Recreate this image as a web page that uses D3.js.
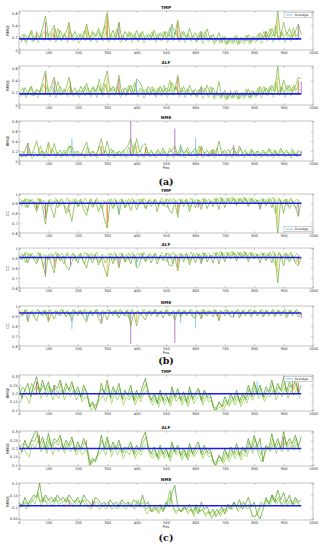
<!DOCTYPE html>
<html>
<head>
<meta charset="utf-8">
<script src="https://cdnjs.cloudflare.com/ajax/libs/d3/7.8.5/d3.min.js"></script>
<style>
  body { margin: 0; background: #fff; }
  svg { display: block; }
  svg text { font-family: "DejaVu Sans", "Liberation Sans", sans-serif; }
  svg text.panel-tag { font-family: "DejaVu Serif", "Liberation Serif", serif; }
</style>
</head>
<body>
<div id="chart"></div>
<script>
const xTicks = [0, 100, 200, 300, 400, 500, 600, 700, 800, 900, 1000];
const posA = d3.range(0, 961, 10);   // main series positions
const posB = d3.range(5, 960, 10);   // second series positions
const posC = d3.range(3, 960, 10);   // third series positions

const ticksRmseA = [0, 0.2, 0.4, 0.6];
const ticksRmseNme = [0, 0.2, 0.4, 0.6, 0.8];
const ticksCC = [0.6, 0.7, 0.8, 0.9, 1];
const ticksC = [0.1, 0.15, 0.2, 0.25, 0.3];
const ticksCNme = [0.05, 0.1, 0.15, 0.2];

const averages = { a1: 0.18, a2: 0.18, a3: 0.12, b1: 0.905, b2: 0.905, b3: 0.93, c1: 0.198, c2: 0.2, c3: 0.105 };

// (a) TMP
const a1A = [.22,.15,.25,.18,.3,.14,.28,.2,.35,.55,.22,.3,.4,.18,.32,.2,.28,.45,.2,.3,.16,.26,.2,.42,.18,.3,.22,.35,.2,.38,.6,.2,.32,.18,.45,.16,.3,.22,.28,.18,.32,.2,.3,.16,.26,.2,.32,.18,.28,.2,.3,.22,.42,.25,.48,.2,.3,.18,.35,.2,.28,.16,.3,.2,.34,.18,.25,.15,.28,.12,.22,.1,.2,.12,.24,.1,.2,.14,.25,.12,.22,.15,.28,.18,.3,.2,.35,.22,.63,.2,.45,.25,.35,.2,.3,.42,.25];
const a1B = [.12,.2,.1,.24,.13,.2,.12,.26,.15,.3,.14,.25,.12,.22,.15,.28,.12,.24,.14,.2,.11,.23,.15,.3,.13,.22,.12,.26,.14,.3,.12,.22,.15,.28,.12,.2,.14,.25,.12,.22,.13,.24,.11,.2,.15,.26,.12,.22,.14,.28,.12,.24,.15,.32,.13,.22,.12,.25,.14,.2,.12,.24,.1,.22,.13,.2,.09,.18,.1,.2,.08,.16,.1,.18,.08,.2,.1,.17,.09,.2,.12,.22,.1,.24,.14,.26,.12,.3,.15,.28,.12,.25,.14,.3,.16,.24];
const a1C = [.18,.26,.14,.2,.32,.16,.22,.18,.3,.24,.16,.28,.2,.35,.15,.24,.18,.3,.22,.16,.26,.18,.32,.2,.15,.28,.22,.3,.18,.4,.16,.26,.2,.34,.18,.24,.15,.3,.2,.26,.16,.28,.18,.24,.2,.3,.16,.26,.22,.3,.18,.36,.2,.28,.16,.3,.22,.26,.18,.24,.14,.28,.2,.3,.16,.24,.12,.2,.14,.22,.1,.18,.14,.22,.12,.2,.15,.24,.13,.22,.16,.26,.18,.3,.2,.34,.22,.4,.18,.3,.22,.28,.2,.36,.22,.3];
const a1Spikes = [[300,.58,'yellow'],[300,.5,'orange'],[90,.45,'red'],[170,.4,'orange'],[340,.44,'purple'],[540,.45,'orange'],[950,.4,'purple'],[520,.38,'cyan'],[120,.35,'orange'],[880,.5,'yellow'],[230,.38,'yellow'],[620,.3,'purple'],[840,.3,'red'],[60,.3,'orange']];

// (a) ALF
const a2A = [.2,.16,.28,.18,.3,.15,.26,.2,.38,.55,.22,.32,.45,.2,.3,.18,.26,.45,.2,.28,.16,.3,.2,.35,.18,.28,.22,.32,.2,.38,.55,.22,.3,.18,.48,.16,.28,.2,.32,.18,.42,.38,.28,.16,.3,.2,.26,.18,.3,.2,.28,.22,.36,.24,.48,.2,.3,.18,.32,.2,.26,.16,.3,.2,.32,.18,.28,.15,.38,.12,.24,.1,.2,.12,.24,.1,.2,.14,.26,.12,.22,.15,.3,.18,.28,.2,.32,.22,.63,.2,.4,.25,.32,.2,.3,.45,.42];
const a2B = [.13,.22,.11,.25,.14,.22,.12,.28,.16,.3,.13,.24,.12,.22,.16,.26,.13,.25,.14,.22,.12,.24,.15,.28,.13,.24,.12,.28,.14,.32,.12,.24,.15,.26,.12,.22,.14,.28,.16,.25,.13,.24,.11,.22,.15,.26,.12,.24,.14,.26,.12,.26,.15,.3,.13,.24,.12,.26,.14,.22,.12,.24,.1,.2,.12,.22,.09,.18,.1,.2,.08,.18,.1,.18,.09,.2,.1,.18,.1,.22,.12,.24,.11,.26,.14,.28,.12,.3,.15,.28,.12,.26,.14,.32,.16,.26];
const a2C = [.2,.28,.15,.22,.3,.16,.24,.2,.34,.22,.18,.3,.2,.38,.16,.26,.2,.32,.2,.18,.24,.2,.3,.18,.16,.3,.2,.42,.18,.35,.18,.28,.22,.3,.2,.26,.16,.32,.2,.36,.18,.28,.2,.26,.18,.3,.15,.28,.2,.32,.18,.4,.2,.3,.18,.28,.2,.26,.16,.24,.14,.26,.2,.28,.15,.3,.12,.22,.14,.2,.1,.2,.12,.22,.12,.18,.14,.26,.12,.24,.15,.28,.2,.3,.18,.3,.22,.38,.2,.3,.2,.32,.22,.3,.24,.36];
const a2Spikes = [[90,.5,'orange'],[120,.4,'purple'],[300,.45,'yellow'],[340,.42,'red'],[400,.4,'cyan'],[540,.44,'orange'],[880,.45,'yellow'],[950,.4,'orange'],[960,.38,'purple'],[175,.38,'orange'],[620,.3,'purple'],[720,.24,'purple']];

// (a) NME
const a3A = [.15,.08,.2,.36,.1,.22,.4,.12,.2,.1,.38,.15,.35,.12,.22,.1,.18,.3,.28,.12,.2,.1,.25,.38,.12,.2,.1,.24,.45,.15,.4,.12,.22,.1,.2,.12,.24,.3,.45,.15,.45,.18,.3,.35,.12,.22,.1,.2,.12,.26,.1,.18,.2,.3,.12,.3,.15,.22,.1,.2,.25,.12,.3,.15,.22,.1,.24,.12,.4,.15,.22,.1,.2,.28,.12,.3,.15,.22,.1,.24,.12,.2,.1,.22,.14,.25,.12,.22,.1,.26,.14,.22,.12,.24,.1,.22,.15];
const a3B = [.06,.12,.08,.18,.05,.14,.09,.2,.06,.12,.1,.16,.07,.14,.06,.18,.08,.2,.06,.12,.09,.15,.06,.2,.08,.14,.06,.16,.1,.22,.07,.14,.06,.18,.08,.12,.06,.2,.09,.16,.07,.14,.06,.18,.08,.12,.06,.15,.09,.2,.07,.14,.06,.16,.08,.12,.06,.18,.09,.14,.07,.16,.06,.12,.08,.18,.06,.14,.09,.16,.07,.12,.06,.18,.08,.14,.06,.16,.09,.2,.07,.14,.06,.16,.08,.12,.06,.18,.09,.15,.07,.14,.06,.16,.08,.12];
const a3C = [.12,.2,.08,.25,.12,.18,.1,.3,.14,.2,.1,.25,.12,.18,.1,.22,.14,.3,.1,.2,.12,.16,.1,.28,.12,.2,.1,.3,.14,.2,.12,.25,.1,.18,.12,.22,.1,.28,.12,.35,.14,.2,.1,.25,.12,.18,.1,.24,.12,.2,.1,.26,.14,.2,.12,.22,.1,.28,.12,.2,.1,.3,.12,.18,.1,.22,.12,.26,.1,.2,.12,.24,.1,.2,.12,.26,.1,.18,.12,.22,.1,.2,.12,.18,.1,.24,.12,.2,.1,.22,.12,.18,.1,.2,.12,.18];
const a3Spikes = [[30,.36,'purple'],[180,.45,'cyan'],[380,.8,'purple'],[530,.65,'purple'],[600,.47,'cyan'],[550,.34,'cyan'],[100,.35,'yellow'],[280,.3,'orange'],[620,.28,'orange'],[730,.32,'purple'],[400,.3,'yellow'],[660,.22,'red'],[430,.28,'orange'],[960,.2,'purple']];

// (b) TMP
const b1A = [.92,.88,.95,.86,.94,.9,.82,.95,.87,.69,.93,.85,.76,.94,.88,.92,.8,.84,.72,.93,.87,.95,.84,.78,.93,.86,.94,.82,.9,.75,.65,.92,.85,.94,.79,.95,.86,.92,.83,.94,.84,.9,.95,.85,.93,.87,.94,.82,.93,.88,.95,.84,.8,.92,.76,.94,.87,.95,.82,.93,.86,.94,.84,.95,.85,.93,.87,.95,.84,.96,.86,.95,.9,.96,.88,.95,.91,.96,.87,.95,.9,.94,.85,.95,.88,.94,.86,.95,.58,.94,.8,.95,.85,.93,.87,.77,.92];
const b1B = [.95,.9,.96,.91,.95,.89,.96,.9,.94,.88,.95,.91,.96,.89,.95,.9,.96,.88,.95,.91,.94,.89,.96,.9,.95,.88,.96,.91,.94,.9,.95,.89,.96,.9,.95,.91,.94,.88,.96,.9,.95,.89,.96,.91,.95,.9,.94,.88,.96,.9,.95,.89,.96,.91,.95,.9,.94,.88,.96,.9,.95,.89,.96,.91,.95,.9,.96,.91,.97,.9,.96,.92,.97,.91,.96,.9,.97,.91,.96,.9,.95,.89,.96,.9,.95,.91,.97,.9,.96,.89,.95,.9,.96,.91,.95,.9];
const b1C = [.9,.94,.86,.95,.9,.92,.84,.95,.9,.8,.94,.88,.93,.86,.95,.9,.83,.94,.9,.95,.87,.93,.9,.82,.95,.88,.94,.9,.85,.93,.9,.95,.87,.92,.9,.94,.86,.95,.9,.93,.88,.95,.9,.85,.94,.9,.95,.88,.93,.9,.86,.95,.9,.94,.87,.95,.9,.93,.86,.95,.9,.94,.88,.95,.9,.93,.9,.96,.91,.95,.9,.96,.92,.95,.9,.96,.91,.95,.89,.96,.9,.94,.9,.95,.91,.96,.9,.8,.95,.9,.94,.88,.95,.9,.85,.94];
const b1Spikes = [[300,.65,'yellow'],[300,.7,'orange'],[340,.79,'cyan'],[950,.78,'purple'],[90,.75,'red'],[170,.82,'orange'],[540,.8,'orange'],[60,.85,'orange'],[880,.7,'yellow'],[820,.84,'purple'],[610,.86,'red']];

// (b) ALF
const b2A = [.93,.88,.95,.85,.94,.89,.84,.95,.86,.73,.93,.84,.75,.94,.87,.92,.82,.78,.86,.93,.85,.95,.86,.8,.93,.85,.94,.83,.9,.8,.71,.92,.84,.94,.8,.95,.86,.92,.84,.94,.8,.83,.95,.86,.93,.85,.94,.84,.93,.87,.95,.83,.82,.92,.77,.94,.86,.95,.83,.93,.85,.94,.84,.95,.86,.93,.85,.95,.84,.96,.86,.95,.89,.96,.87,.95,.9,.96,.86,.95,.89,.94,.85,.95,.87,.94,.85,.95,.65,.94,.82,.95,.86,.93,.85,.82,.9];
const b2B = [.95,.91,.96,.9,.95,.89,.96,.91,.94,.88,.95,.9,.96,.89,.95,.91,.96,.88,.95,.9,.94,.89,.96,.91,.95,.88,.96,.9,.94,.91,.95,.89,.96,.9,.95,.9,.94,.88,.96,.91,.95,.89,.96,.9,.95,.91,.94,.88,.96,.9,.95,.89,.96,.9,.95,.91,.94,.88,.96,.9,.95,.89,.96,.9,.95,.91,.96,.9,.97,.91,.96,.91,.97,.9,.96,.91,.97,.9,.96,.91,.95,.89,.96,.9,.95,.9,.97,.91,.96,.89,.95,.91,.96,.9,.95,.89];
const b2C = [.9,.94,.85,.95,.9,.92,.86,.95,.8,.93,.88,.94,.86,.95,.9,.84,.94,.9,.95,.87,.93,.9,.84,.95,.88,.94,.9,.86,.93,.85,.9,.95,.87,.92,.9,.94,.86,.95,.9,.93,.86,.95,.9,.87,.94,.9,.95,.88,.93,.9,.86,.95,.84,.94,.87,.95,.9,.93,.86,.95,.9,.94,.88,.95,.9,.93,.9,.96,.91,.95,.9,.96,.92,.95,.9,.96,.91,.95,.89,.96,.9,.94,.9,.95,.91,.96,.9,.82,.95,.9,.94,.88,.95,.9,.86,.93];
const b2Spikes = [[90,.71,'purple'],[300,.73,'yellow'],[120,.8,'orange'],[175,.82,'purple'],[400,.82,'cyan'],[540,.8,'orange'],[950,.84,'orange'],[340,.82,'red'],[880,.75,'yellow'],[620,.86,'purple']];

// (b) NME
const b3A = [.95,.9,.96,.84,.94,.9,.85,.95,.9,.96,.84,.93,.87,.95,.9,.96,.89,.94,.85,.95,.9,.96,.89,.84,.95,.9,.96,.88,.82,.94,.86,.95,.9,.96,.88,.95,.9,.96,.8,.93,.8,.94,.9,.86,.95,.9,.96,.89,.95,.88,.96,.9,.94,.86,.95,.89,.96,.9,.95,.89,.88,.95,.87,.96,.9,.95,.89,.96,.85,.95,.9,.96,.89,.9,.95,.88,.96,.9,.95,.89,.96,.9,.95,.89,.96,.9,.95,.89,.96,.9,.95,.88,.96,.9,.95,.89,.92];
const b3B = [.96,.93,.97,.92,.96,.93,.97,.91,.96,.93,.97,.92,.96,.93,.97,.91,.96,.92,.97,.93,.96,.91,.97,.93,.96,.92,.97,.91,.96,.93,.97,.92,.96,.93,.97,.91,.96,.92,.97,.93,.96,.91,.97,.93,.96,.92,.97,.91,.96,.93,.97,.92,.96,.93,.97,.91,.96,.92,.97,.93,.96,.91,.97,.93,.96,.92,.97,.91,.96,.93,.97,.92,.96,.93,.97,.91,.96,.92,.97,.93,.96,.91,.97,.93,.96,.92,.97,.91,.96,.93,.97,.92,.96,.93,.97,.92];
const b3C = [.94,.9,.96,.92,.95,.9,.96,.93,.95,.9,.96,.92,.95,.91,.96,.93,.95,.9,.96,.92,.95,.91,.96,.89,.95,.92,.96,.9,.95,.92,.96,.93,.95,.9,.96,.92,.95,.88,.96,.91,.95,.92,.96,.9,.95,.93,.96,.91,.95,.92,.96,.9,.95,.93,.96,.91,.95,.92,.96,.9,.95,.92,.96,.91,.95,.93,.96,.9,.95,.92,.96,.91,.95,.93,.96,.9,.95,.92,.96,.91,.95,.93,.96,.9,.95,.92,.96,.91,.95,.93,.96,.9,.95,.92,.96,.91];
const b3Spikes = [[30,.86,'purple'],[180,.77,'cyan'],[380,.62,'purple'],[530,.63,'purple'],[550,.83,'cyan'],[600,.78,'cyan'],[230,.86,'cyan'],[280,.84,'purple'],[620,.87,'orange'],[730,.88,'purple'],[400,.84,'yellow'],[960,.88,'purple'],[100,.86,'orange'],[680,.86,'orange']];

// (c) TMP
const c1A = [.24,.17,.22,.26,.18,.25,.3,.2,.28,.22,.27,.19,.25,.23,.28,.2,.26,.22,.27,.2,.24,.18,.25,.21,.12,.15,.1,.16,.26,.2,.28,.18,.24,.2,.26,.17,.22,.19,.25,.16,.22,.18,.24,.29,.2,.16,.2,.14,.22,.16,.2,.15,.24,.18,.23,.16,.21,.15,.24,.17,.2,.23,.16,.22,.18,.2,.12,.1,.15,.12,.18,.14,.2,.16,.22,.15,.2,.17,.25,.19,.27,.2,.25,.18,.24,.21,.28,.2,.26,.22,.3,.21,.27,.23,.28,.2,.25];
const c1B = [.15,.2,.18,.14,.22,.19,.24,.17,.21,.18,.23,.16,.2,.17,.22,.16,.21,.18,.22,.16,.2,.15,.18,.17,.1,.12,.14,.16,.19,.15,.22,.14,.2,.16,.21,.13,.18,.16,.2,.13,.18,.15,.2,.22,.16,.13,.17,.12,.18,.13,.17,.12,.19,.15,.18,.13,.17,.12,.19,.14,.17,.19,.13,.18,.15,.16,.1,.11,.12,.1,.14,.12,.16,.13,.18,.12,.17,.14,.2,.16,.22,.17,.2,.15,.19,.18,.22,.16,.21,.18,.24,.17,.22,.19,.23,.17];
const c1C = [.2,.24,.21,.19,.26,.22,.27,.21,.25,.2,.25,.21,.23,.2,.26,.19,.24,.21,.25,.19,.22,.17,.23,.19,.12,.14,.12,.2,.23,.19,.25,.17,.22,.19,.23,.16,.21,.18,.22,.15,.2,.17,.22,.26,.19,.15,.19,.14,.2,.15,.18,.14,.22,.17,.21,.15,.19,.14,.22,.16,.19,.22,.15,.21,.17,.18,.11,.12,.14,.12,.16,.13,.18,.15,.2,.14,.19,.16,.23,.18,.25,.19,.23,.17,.22,.2,.26,.19,.24,.21,.27,.2,.25,.22,.26,.2];
const c1Spikes = [[810,.275,'cyan'],[950,.265,'red'],[930,.28,'orange'],[60,.27,'red'],[120,.25,'purple']];

// (c) ALF
const c2A = [.22,.18,.25,.2,.24,.28,.31,.22,.27,.2,.29,.21,.26,.24,.28,.2,.25,.22,.27,.19,.24,.2,.26,.21,.1,.14,.12,.18,.28,.2,.27,.19,.24,.2,.25,.18,.21,.2,.24,.17,.22,.19,.26,.3,.2,.17,.21,.15,.22,.17,.2,.15,.24,.18,.22,.16,.2,.15,.23,.17,.21,.24,.17,.22,.18,.2,.12,.1,.16,.13,.2,.15,.21,.17,.23,.16,.21,.18,.26,.2,.28,.21,.26,.12,.22,.2,.29,.21,.26,.2,.3,.22,.26,.23,.28,.21,.27];
const c2B = [.16,.21,.17,.15,.23,.2,.25,.18,.22,.17,.24,.16,.21,.18,.23,.17,.22,.18,.21,.16,.2,.16,.19,.17,.1,.13,.15,.17,.2,.16,.22,.15,.21,.16,.2,.14,.19,.16,.21,.14,.18,.16,.21,.23,.16,.14,.17,.13,.18,.14,.17,.12,.19,.16,.18,.13,.17,.13,.19,.15,.18,.2,.14,.18,.15,.16,.1,.12,.13,.11,.15,.12,.17,.14,.18,.13,.17,.15,.21,.17,.22,.16,.12,.16,.2,.18,.23,.17,.21,.18,.24,.18,.22,.19,.23,.18];
const c2C = [.21,.23,.22,.2,.25,.24,.29,.2,.25,.19,.26,.2,.24,.22,.26,.19,.23,.21,.25,.18,.22,.19,.24,.2,.11,.13,.14,.2,.25,.19,.25,.18,.22,.19,.23,.17,.2,.19,.22,.16,.2,.18,.24,.27,.19,.16,.19,.14,.2,.16,.19,.14,.22,.17,.2,.15,.19,.14,.21,.16,.2,.22,.16,.2,.17,.18,.11,.13,.15,.12,.18,.14,.19,.16,.21,.15,.2,.17,.24,.19,.26,.2,.16,.2,.21,.19,.26,.2,.24,.2,.27,.21,.24,.21,.26,.2];
const c2Spikes = [[70,.28,'red'],[230,.25,'orange'],[900,.27,'purple']];

// (c) NME
const c3A = [.12,.1,.14,.11,.13,.15,.14,.2,.12,.15,.13,.14,.12,.15,.13,.14,.12,.15,.13,.12,.14,.11,.15,.13,.12,.1,.14,.13,.11,.12,.1,.13,.11,.12,.1,.13,.11,.12,.1,.13,.12,.1,.15,.11,.12,.08,.1,.09,.11,.08,.12,.1,.16,.19,.1,.08,.1,.09,.11,.08,.1,.07,.12,.09,.1,.07,.09,.06,.08,.1,.07,.11,.09,.12,.1,.13,.09,.11,.14,.1,.12,.07,.05,.09,.14,.11,.15,.12,.17,.13,.16,.12,.15,.11,.14,.12,.13];
const c3B = [.1,.12,.09,.12,.13,.11,.16,.1,.13,.11,.12,.1,.13,.11,.12,.1,.13,.11,.1,.12,.1,.13,.11,.1,.09,.12,.1,.09,.11,.09,.11,.09,.1,.09,.11,.1,.09,.11,.1,.09,.12,.1,.1,.07,.09,.08,.1,.07,.1,.09,.12,.14,.09,.07,.09,.08,.1,.07,.09,.06,.1,.08,.09,.06,.08,.05,.07,.09,.06,.09,.08,.1,.09,.11,.08,.1,.12,.09,.1,.06,.06,.08,.11,.1,.12,.11,.14,.11,.13,.1,.12,.1,.12,.11,.12,.1];
const c3C = [.11,.11,.12,.1,.12,.14,.15,.12,.14,.12,.13,.12,.14,.12,.13,.12,.14,.12,.11,.13,.12,.12,.13,.11,.1,.12,.12,.11,.1,.11,.12,.1,.11,.1,.12,.11,.1,.12,.11,.1,.13,.11,.12,.09,.1,.08,.09,.08,.1,.09,.11,.17,.11,.08,.09,.08,.1,.08,.09,.07,.11,.08,.09,.07,.08,.06,.07,.09,.07,.09,.09,.11,.1,.12,.09,.11,.12,.1,.11,.06,.06,.08,.12,.11,.13,.12,.15,.12,.14,.11,.13,.11,.13,.11,.13,.11];
const c3Spikes = [[170,.13,'orange'],[250,.13,'red']];

// ---- layout ----
const W = 328, H = 550;
const xLeft = 19, xRight = 313;

const spikeColors = { orange: '#D95319', yellow: '#EDB120', purple: '#A040B0', cyan: '#3DAEEE', red: '#C0304F' };

const panels = [
  { id: 'a1', title: 'TMP', top: 11, bottom: 50, dom: [0, 0.63], ticks: ticksRmseA, ylabel: 'RMSE', A: a1A, B: a1B, C: a1C, spikes: a1Spikes, legend: 'top' },
  { id: 'a2', title: 'ALF', top: 66, bottom: 105, dom: [0, 0.63], ticks: ticksRmseA, ylabel: 'RMSE', A: a2A, B: a2B, C: a2C, spikes: a2Spikes },
  { id: 'a3', title: 'NME', top: 121, bottom: 161, dom: [0, 0.8], ticks: ticksRmseNme, ylabel: 'RMSE', A: a3A, B: a3B, C: a3C, spikes: a3Spikes, xlabel: true, panel: '(a)', panelY: 185 },
  { id: 'b1', title: 'TMP', top: 194, bottom: 233, dom: [0.6, 1], ticks: ticksCC, ylabel: 'CC', A: b1A, B: b1B, C: b1C, spikes: b1Spikes, legend: 'bottom' },
  { id: 'b2', title: 'ALF', top: 248, bottom: 288, dom: [0.6, 1], ticks: ticksCC, ylabel: 'CC', A: b2A, B: b2B, C: b2C, spikes: b2Spikes },
  { id: 'b3', title: 'NME', top: 306, bottom: 346, dom: [0.6, 1], ticks: ticksCC, ylabel: 'CC', A: b3A, B: b3B, C: b3C, spikes: b3Spikes, xlabel: true, panel: '(b)', panelY: 364 },
  { id: 'c1', title: 'TMP', top: 375, bottom: 411, dom: [0.095, 0.31], ticks: ticksC, ylabel: 'RMSE', A: c1A, B: c1B, C: c1C, spikes: c1Spikes, legend: 'top', dark: true },
  { id: 'c2', title: 'ALF', top: 431, bottom: 466, dom: [0.095, 0.305], ticks: ticksC, ylabel: 'RMSE', A: c2A, B: c2B, C: c2C, spikes: c2Spikes, dark: true },
  { id: 'c3', title: 'NME', top: 483, bottom: 520, dom: [0.045, 0.2], ticks: ticksCNme, ylabel: 'RMSE', A: c3A, B: c3B, C: c3C, spikes: c3Spikes, xlabel: true, panel: '(c)', panelY: 541, dark: true }
];

const svg = d3.select('#chart').append('svg')
  .attr('width', W)
  .attr('height', H);

const x = d3.scaleLinear().domain([0, 1000]).range([xLeft, xRight]);

panels.forEach(p => {
  const y = d3.scaleLinear().domain(p.dom).range([p.bottom, p.top]);
  const g = svg.append('g');

  g.append('clipPath').attr('id', 'clip-' + p.id)
    .append('rect')
    .attr('x', xLeft).attr('y', p.top)
    .attr('width', xRight - xLeft).attr('height', p.bottom - p.top);

  const plot = g.append('g').attr('clip-path', `url(#clip-${p.id})`);

  const line = d3.line().x(d => x(d[0])).y(d => y(d[1]));
  const dataA = p.A.map((v, i) => [posA[i], v]);
  const dataB = p.B.map((v, i) => [posB[i], v]);
  const dataC = p.C.map((v, i) => [posC[i], v]);

  // light green series
  plot.append('path')
    .datum(dataB)
    .attr('fill', 'none')
    .attr('stroke', p.dark ? '#a9d86e' : '#b2d97a')
    .attr('stroke-width', 0.9)
    .attr('d', line);

  plot.append('path')
    .datum(dataC)
    .attr('fill', 'none')
    .attr('stroke', p.dark ? '#8cc650' : '#98c95a')
    .attr('stroke-width', 0.8)
    .attr('d', line);

  // coloured spikes from other runs
  plot.selectAll('line.spike')
    .data(p.spikes)
    .join('line')
    .attr('class', 'spike')
    .attr('x1', d => x(d[0]))
    .attr('x2', d => x(d[0]))
    .attr('y1', y(averages[p.id]))
    .attr('y2', d => y(d[1]))
    .attr('stroke', d => spikeColors[d[2]])
    .attr('stroke-width', 0.8)
    .attr('opacity', 0.85);

  // main green series
  plot.append('path')
    .datum(dataA)
    .attr('fill', 'none')
    .attr('stroke', p.dark ? '#4f9a1c' : '#72b032')
    .attr('stroke-width', 0.7)
    .attr('d', line);

  // average line
  plot.append('path')
    .datum([[0, averages[p.id]], [960, averages[p.id]]])
    .attr('fill', 'none')
    .attr('stroke', '#1c1cf0')
    .attr('stroke-width', 1.6)
    .attr('d', line);

  // axes (ticks pointing inward, MATLAB style)
  const axisStyle = sel => {
    sel.attr('font-family', null);
    sel.select('.domain').remove();
    sel.selectAll('line').attr('stroke', '#777').attr('stroke-width', 0.4);
    sel.selectAll('text').attr('fill', '#333').style('font-size', '3.6px');
  };

  g.append('g')
    .attr('transform', `translate(0,${p.bottom})`)
    .call(d3.axisBottom(x).tickValues(xTicks).tickSize(-1.8).tickPadding(1.4).tickFormat(d3.format('d')))
    .call(axisStyle);
  g.append('g')
    .attr('transform', `translate(0,${p.top})`)
    .call(d3.axisTop(x).tickValues(xTicks).tickSize(-1.8).tickFormat(''))
    .call(axisStyle);
  g.append('g')
    .attr('transform', `translate(${xLeft},0)`)
    .call(d3.axisLeft(y).tickValues(p.ticks).tickSize(-1.8).tickPadding(1.2).tickFormat(d => String(d)))
    .call(axisStyle);
  g.append('g')
    .attr('transform', `translate(${xRight},0)`)
    .call(d3.axisRight(y).tickValues(p.ticks).tickSize(-1.8).tickFormat(''))
    .call(axisStyle);

  // frame
  g.append('rect')
    .attr('x', xLeft).attr('y', p.top)
    .attr('width', xRight - xLeft).attr('height', p.bottom - p.top)
    .attr('fill', 'none')
    .attr('stroke', '#8a8a8a')
    .attr('stroke-width', 0.5);

  // title
  g.append('text')
    .attr('x', (xLeft + xRight) / 2)
    .attr('y', p.top - 1.6)
    .attr('text-anchor', 'middle')
    .attr('fill', '#222')
    .style('font-size', '4.2px')
    .style('font-weight', 'bold')
    .text(p.title);

  // y label
  g.append('text')
    .attr('transform', `translate(9,${(p.top + p.bottom) / 2}) rotate(-90)`)
    .attr('text-anchor', 'middle')
    .attr('fill', '#333')
    .style('font-size', '3.8px')
    .text(p.ylabel);

  if (p.xlabel) {
    g.append('text')
      .attr('x', (xLeft + xRight) / 2)
      .attr('y', p.bottom + 7.8)
      .attr('text-anchor', 'middle')
      .attr('fill', '#333')
      .style('font-size', '3.8px')
      .text('Pos');
  }

  if (p.panel) {
    svg.append('text')
      .attr('class', 'panel-tag')
      .attr('x', (xLeft + xRight) / 2)
      .attr('y', p.panelY)
      .attr('text-anchor', 'middle')
      .attr('fill', '#111')
      .style('font-size', '9.5px')
      .style('font-weight', 'bold')
      .text(p.panel);
  }

  if (p.legend) {
    const ly = p.legend === 'top' ? p.top + 1.2 : p.bottom - 6.6;
    const lg = g.append('g').attr('transform', `translate(284,${ly})`);
    lg.append('rect')
      .attr('width', 28).attr('height', 5.4)
      .attr('fill', '#fff')
      .attr('stroke', '#8a8a8a')
      .attr('stroke-width', 0.4);
    lg.append('line')
      .attr('x1', 2).attr('x2', 9)
      .attr('y1', 2.7).attr('y2', 2.7)
      .attr('stroke', '#4dbeee')
      .attr('stroke-width', 0.8);
    lg.append('text')
      .attr('x', 10.5).attr('y', 3.9)
      .attr('fill', '#333')
      .style('font-size', '3.4px')
      .text('Average');
  }
});
</script>
</body>
</html>
